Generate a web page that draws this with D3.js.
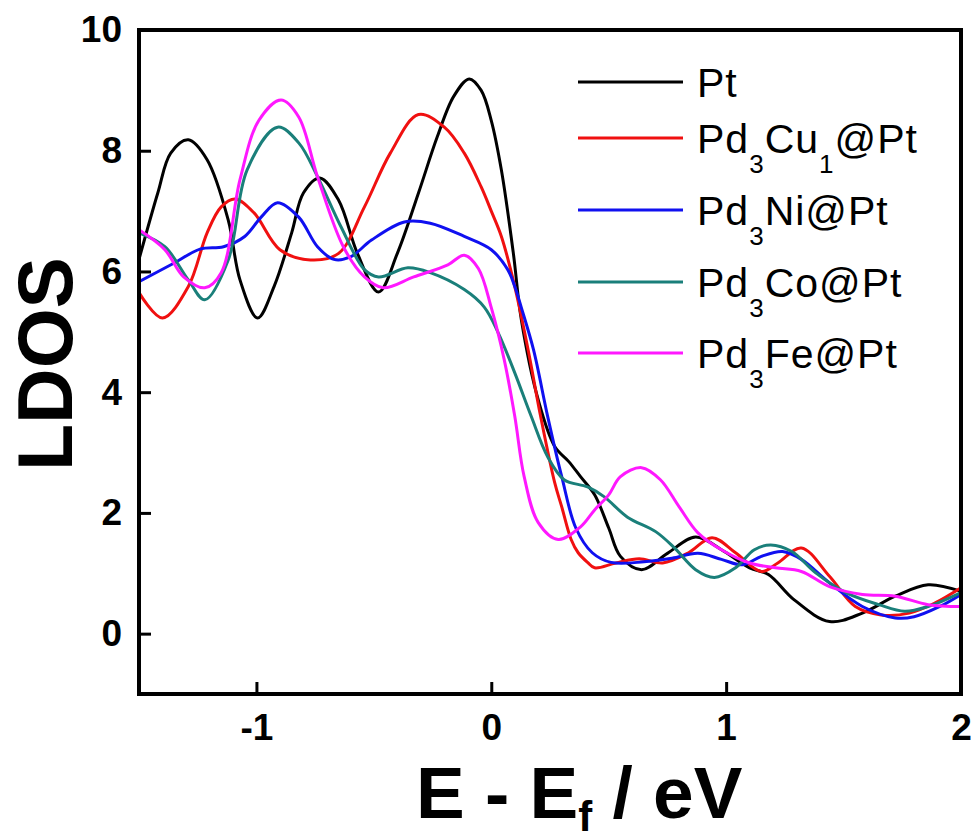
<!DOCTYPE html>
<html>
<head>
<meta charset="utf-8">
<script src="https://cdn.jsdelivr.net/npm/d3@7"></script>
<style>
  body { margin: 0; background: #fff; }
  text { font-family: "Liberation Sans", Arial, sans-serif; }
</style>
</head>
<body>
<div id="chart"></div>
<script>
// data: energy (eV) and LDOS per alloy
const ptE = [-1.5, -1.42, -1.365, -1.29, -1.21, -1.12, -1.07, -0.995, -0.925, -0.85, -0.80, -0.73, -0.65, -0.57, -0.48, -0.40, -0.31, -0.23, -0.16, -0.094, -0.043, 0, 0.043, 0.094, 0.128, 0.2, 0.27, 0.33, 0.38, 0.44, 0.5, 0.55, 0.64, 0.75, 0.87, 0.98, 1.10, 1.18, 1.29, 1.44, 1.58, 1.72, 1.86, 2.0];
const ptD = [6.2, 7.3, 7.96, 8.18, 7.85, 6.85, 5.86, 5.23, 5.75, 6.64, 7.3, 7.55, 7.18, 6.3, 5.66, 6.3, 7.3, 8.23, 8.9, 9.19, 9.0, 8.5, 7.68, 6.3, 5.2, 3.87, 3.1, 2.85, 2.6, 2.3, 1.75, 1.28, 1.06, 1.33, 1.6, 1.39, 1.09, 0.98, 0.56, 0.2, 0.34, 0.62, 0.81, 0.7];

const cuE = [-1.5, -1.40, -1.29, -1.21, -1.15, -1.09, -1.01, -0.9, -0.77, -0.65, -0.54, -0.43, -0.31, -0.2, -0.115, -0.043, 0, 0.043, 0.1, 0.157, 0.21, 0.27, 0.30, 0.34, 0.37, 0.41, 0.44, 0.53, 0.63, 0.73, 0.84, 0.94, 1.04, 1.15, 1.22, 1.32, 1.44, 1.55, 1.66, 1.78, 1.89, 2.0];
const cuD = [5.65, 5.23, 5.75, 6.64, 7.07, 7.2, 6.97, 6.36, 6.19, 6.3, 7.07, 7.96, 8.6, 8.39, 7.96, 7.4, 7.0, 6.58, 5.75, 4.7, 3.6, 2.5, 2.1, 1.56, 1.34, 1.18, 1.09, 1.17, 1.24, 1.17, 1.34, 1.59, 1.34, 1.03, 1.17, 1.42, 0.95, 0.45, 0.31, 0.34, 0.51, 0.76];

const niE = [-1.5, -1.35, -1.24, -1.14, -1.05, -0.98, -0.91, -0.82, -0.74, -0.67, -0.60, -0.51, -0.37, -0.26, -0.115, 0, 0.07, 0.1, 0.128, 0.18, 0.24, 0.30, 0.36, 0.43, 0.51, 0.65, 0.77, 0.88, 0.98, 1.07, 1.15, 1.24, 1.32, 1.44, 1.58, 1.72, 1.80, 1.91, 2.0];
const niD = [5.83, 6.14, 6.37, 6.41, 6.58, 6.9, 7.14, 6.9, 6.41, 6.2, 6.24, 6.52, 6.82, 6.8, 6.58, 6.36, 6.03, 5.75, 5.4, 4.7, 3.6, 2.6, 1.75, 1.34, 1.18, 1.19, 1.25, 1.33, 1.23, 1.14, 1.28, 1.36, 1.23, 0.84, 0.45, 0.26, 0.28, 0.45, 0.65];

const coE = [-1.5, -1.39, -1.29, -1.22, -1.12, -1.04, -0.91, -0.82, -0.74, -0.64, -0.54, -0.48, -0.355, -0.26, -0.115, -0.03, 0.03, 0.1, 0.17, 0.24, 0.31, 0.41, 0.48, 0.58, 0.70, 0.78, 0.87, 0.95, 1.04, 1.12, 1.19, 1.28, 1.38, 1.51, 1.65, 1.76, 1.86, 2.0];
const coD = [6.64, 6.41, 5.86, 5.53, 6.19, 7.68, 8.39, 8.13, 7.57, 6.74, 6.03, 5.91, 6.06, 5.98, 5.7, 5.41, 4.98, 4.32, 3.6, 2.93, 2.55, 2.43, 2.27, 1.93, 1.69, 1.42, 1.06, 0.93, 1.09, 1.39, 1.47, 1.36, 1.01, 0.68, 0.48, 0.37, 0.45, 0.68];

const feE = [-1.5, -1.39, -1.31, -1.22, -1.15, -1.07, -0.99, -0.895, -0.82, -0.74, -0.63, -0.54, -0.46, -0.33, -0.185, -0.115, -0.055, 0, 0.055, 0.1, 0.14, 0.2, 0.285, 0.38, 0.44, 0.5, 0.55, 0.64, 0.72, 0.80, 0.88, 0.98, 1.10, 1.21, 1.32, 1.44, 1.58, 1.72, 1.86, 2.0];
const feD = [6.69, 6.36, 5.91, 5.73, 5.98, 7.52, 8.5, 8.84, 8.56, 7.57, 6.41, 5.91, 5.73, 5.91, 6.11, 6.27, 6.05, 5.4, 4.54, 3.6, 2.6, 1.84, 1.56, 1.77, 2.05, 2.3, 2.6, 2.75, 2.55, 2.1, 1.67, 1.39, 1.17, 1.09, 1.03, 0.78, 0.65, 0.62, 0.48, 0.45];

// digits in a name are drawn as subscripts
const names = ["Pt", "Pd3Cu1@Pt", "Pd3Ni@Pt", "Pd3Co@Pt", "Pd3Fe@Pt"];
const colors = ["#000000", "#f01010", "#1010f0", "#1a7f7a", "#ff18ff"];
const energies = [ptE, cuE, niE, coE, feE];
const ldos = [ptD, cuD, niD, coD, feD];

const xTicks = [-1, 0, 1, 2];
const yTicks = [0, 2, 4, 6, 8, 10];

const width = 975, height = 840;
const svg = d3.select("#chart").append("svg")
    .attr("width", width)
    .attr("height", height);

const x = d3.scaleLinear().domain([-1.5, 2]).range([139, 961]);
const y = d3.scaleLinear().domain([-1, 10]).range([694, 30]);

svg.append("clipPath").attr("id", "clip")
  .append("rect")
    .attr("x", x.range()[0]).attr("y", y.range()[1])
    .attr("width", x.range()[1] - x.range()[0])
    .attr("height", y.range()[0] - y.range()[1]);

// curves
const line = d3.line()
    .x(d => x(d[0]))
    .y(d => y(d[1]))
    .curve(d3.curveCatmullRom.alpha(0.5));

const curves = svg.append("g").attr("clip-path", "url(#clip)");
names.forEach((n, i) => {
  const pts = energies[i].map((e, j) => [e, ldos[i][j]]);
  curves.append("path")
      .datum(pts)
      .attr("fill", "none")
      .attr("stroke", colors[i])
      .attr("stroke-width", 3)
      .attr("d", line);
});

// axes, ticks pointing inward
const fmt = d => String(d).replace("\u2212", "-");
const xAxis = svg.append("g")
    .attr("transform", `translate(0,${y.range()[0]})`)
    .call(d3.axisBottom(x).tickValues(xTicks).tickFormat(fmt).tickSizeInner(-12).tickSizeOuter(0).tickPadding(22));
const yAxis = svg.append("g")
    .attr("transform", `translate(${x.range()[0]},0)`)
    .call(d3.axisLeft(y).tickValues(yTicks).tickFormat(fmt).tickSizeInner(-12).tickSizeOuter(0).tickPadding(17));

[xAxis, yAxis].forEach(a => {
  a.select(".domain").remove();
  a.selectAll(".tick line").attr("stroke", "#000").attr("stroke-width", 3);
  a.selectAll(".tick text")
      .attr("font-family", "'Liberation Sans', Arial, sans-serif")
      .attr("font-size", 37)
      .attr("font-weight", "bold")
      .attr("fill", "#000");
});
xAxis.selectAll(".tick text").attr("dy", "0.66em");

// frame
svg.append("rect")
    .attr("x", x.range()[0]).attr("y", y.range()[1])
    .attr("width", x.range()[1] - x.range()[0])
    .attr("height", y.range()[0] - y.range()[1])
    .attr("fill", "none")
    .attr("stroke", "#000")
    .attr("stroke-width", 4);

// axis titles
svg.append("text")
    .attr("transform", "translate(72,364) rotate(-90)")
    .attr("text-anchor", "middle")
    .attr("font-size", 77)
    .attr("font-weight", "bold")
    .text("LDOS");

const xt = svg.append("text")
    .attr("x", 416).attr("y", 818)
    .attr("font-size", 73)
    .attr("font-weight", "bold")
    .style("white-space", "pre");
xt.append("tspan").text("E - E");
xt.append("tspan").attr("font-size", 42).attr("dy", 13).text("f");
xt.append("tspan").attr("dy", -13).text(" / eV");

// legend
const rowY = [82, 138, 210, 282, 353];
const legend = svg.append("g");
names.forEach((n, i) => {
  legend.append("line")
      .attr("x1", 578).attr("x2", 683)
      .attr("y1", rowY[i]).attr("y2", rowY[i])
      .attr("stroke", colors[i])
      .attr("stroke-width", 3);
  const t = legend.append("text")
      .attr("x", 697).attr("y", rowY[i] + 15)
      .attr("font-size", 41)
      .attr("letter-spacing", 1);
  let sub = false;
  n.split(/(\d)/).filter(s => s.length).forEach(part => {
    const isSub = /\d/.test(part);
    const span = t.append("tspan").text(part);
    if (isSub && !sub) { span.attr("font-size", 26).attr("dy", 20); sub = true; }
    else if (!isSub && sub) { span.attr("dy", -20); sub = false; }
    else if (isSub) span.attr("font-size", 26);
  });
});
</script>
</body>
</html>
